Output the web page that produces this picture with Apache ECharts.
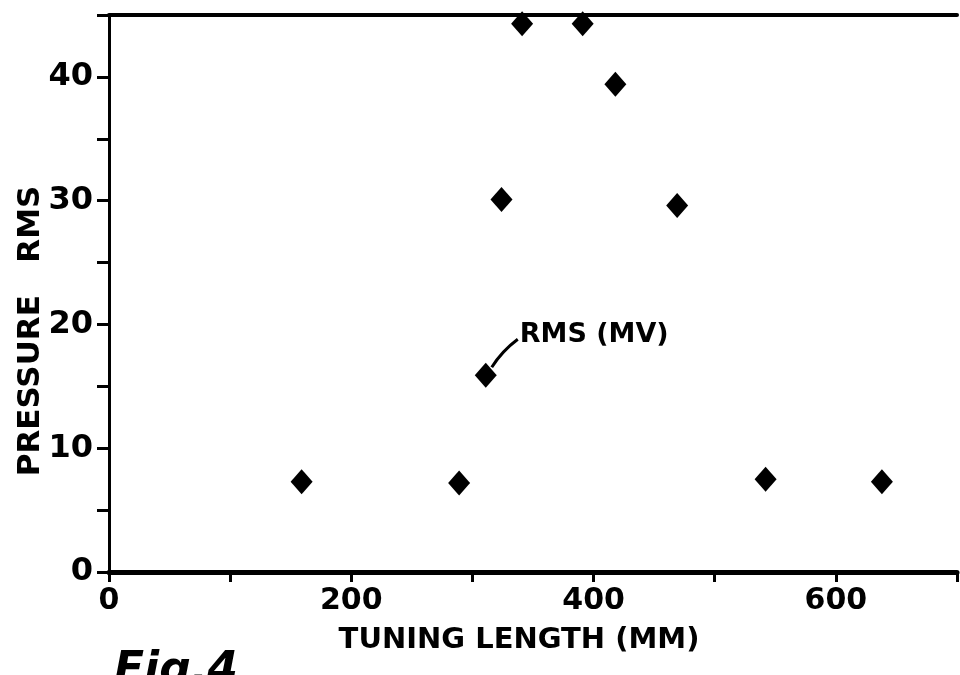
<!DOCTYPE html>
<html>
<head>
<meta charset="utf-8">
<script src="https://cdn.jsdelivr.net/npm/echarts@6/dist/echarts.min.js"></script>
<style>
  html, body { margin: 0; padding: 0; background: #fff; }
  #container { width: 960px; height: 675px; }
</style>
</head>
<body>
<div id="container"></div>
<script>
var tuningLength = [159, 289, 311, 324, 341, 391, 418, 469, 542, 638];
var pressureRms = [7.3, 7.2, 15.9, 30.1, 44.3, 44.3, 39.4, 29.6, 7.5, 7.3];
var xTicks = [0, 200, 400, 600];
var yTicks = [0, 10, 20, 30, 40];
var seriesName = 'RMS (MV)';

var font = 'DejaVu Sans';
var dom = document.getElementById('container');
var myChart = echarts.init(dom);

var points = tuningLength.map(function (x, i) {
    return [x, pressureRms[i]];
});

var option = {
    animation: false,
    backgroundColor: '#fff',
    grid: {
        left: 109,
        right: 0,
        top: 15,
        bottom: 103
    },
    xAxis: [{
        type: 'value',
        min: 0,
        max: 700,
        interval: 100,
        name: 'TUNING LENGTH (MM)',
        nameLocation: 'middle',
        nameGap: 54,
        nameTextStyle: { color: '#000', fontFamily: font, fontSize: 29, fontWeight: 'bold', padding: [0, 0, 0, -28] },
        axisLine: { lineStyle: { color: '#000', width: 5 } },
        axisTick: { length: 10, lineStyle: { color: '#000', width: 3 } },
        axisLabel: {
            color: '#000', fontFamily: font, fontSize: 30, fontWeight: 'bold', margin: 14,
            formatter: function (v) { return xTicks.indexOf(v) >= 0 ? String(v) : ''; }
        },
        splitLine: { show: false }
    }, {
        type: 'value',
        position: 'top',
        min: 0,
        max: 700,
        axisLine: { show: true, lineStyle: { color: '#000', width: 4 } },
        axisTick: { show: false },
        axisLabel: { show: false },
        splitLine: { show: false }
    }],
    yAxis: {
        type: 'value',
        min: 0,
        max: 45,
        interval: 5,
        axisLine: { show: true, lineStyle: { color: '#000', width: 3 } },
        axisTick: { length: 12, lineStyle: { color: '#000', width: 3 } },
        axisLabel: {
            color: '#000', fontFamily: font, fontSize: 32, fontWeight: 'bold', margin: 16,
            formatter: function (v) { return yTicks.indexOf(v) >= 0 ? String(v) : ''; }
        },
        splitLine: { show: false }
    },
    series: [{
        name: seriesName,
        type: 'scatter',
        symbol: 'diamond',
        symbolSize: [22, 25],
        itemStyle: { color: '#000', opacity: 1 },
        data: points
    }]
};

if (option && typeof option === 'object') {
    myChart.setOption(option, true);
}

// leader note and figure caption, placed from the data point
var p = myChart.convertToPixel({ gridIndex: 0 }, points[2]);
myChart.setOption({
    graphic: [{
        type: 'bezierCurve',
        shape: {
            x1: p[0] + 6, y1: p[1] - 8,
            cpx1: p[0] + 16, cpy1: p[1] - 24,
            x2: p[0] + 32, y2: p[1] - 36
        },
        style: { stroke: '#000', lineWidth: 3, fill: null }
    }, {
        type: 'text',
        x: p[0] + 34,
        y: p[1] - 40,
        style: { text: seriesName, fill: '#000', font: 'bold 27px "DejaVu Sans"', textVerticalAlign: 'middle' }
    }, {
        type: 'text',
        x: 31,
        y: 331,
        rotation: Math.PI / 2,
        style: { text: 'PRESSURE   RMS', fill: '#000', font: 'bold 31px "DejaVu Sans"', textAlign: 'center', textVerticalAlign: 'middle' }
    }, {
        type: 'text',
        x: 114,
        y: 650,
        style: { text: 'Fig.4', fill: '#000', font: 'italic bold 44px "DejaVu Sans"' }
    }]
});
</script>
</body>
</html>
